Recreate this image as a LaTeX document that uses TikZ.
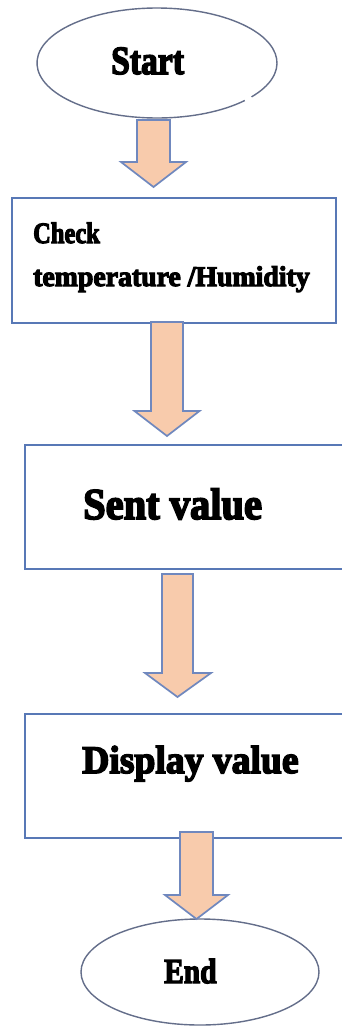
\documentclass[tikz,border=0pt]{standalone}
\usepackage{graphicx}
\usepackage{fontspec}
\usetikzlibrary{shapes.geometric}

% heavy serif used for every label
\newfontfamily\heavyserif{Liberation Serif}[BoldFeatures={FakeBold=4}]
% #1 font size (pt), #2 horizontal squeeze, #3 text
\newcommand\flowlabel[3]{\scalebox{#2}[1]{\fontsize{#1}{#1}\selectfont\heavyserif\bfseries #3}}

\definecolor{boxblue}{RGB}{88,120,182}
\definecolor{termgray}{RGB}{100,110,138}
\definecolor{arrowedge}{RGB}{112,136,190}
\definecolor{arrowfill}{RGB}{248,203,172}

\begin{document}
\begin{tikzpicture}[x=1pt,y=-1pt,
  procbox/.style={rectangle, draw=boxblue, line width=1.5pt, inner sep=0pt, anchor=north west},
  terminal/.style={ellipse, inner sep=0pt},
  termline/.style={draw=termgray, line width=1.4pt},
  blockarrow/.style={draw=arrowedge, fill=arrowfill, line width=1.7pt, line join=miter},
  lbl/.style={anchor=base west, inner sep=0pt}]

\useasboundingbox (0,0) rectangle (342,1026);
\clip (0,0) rectangle (342,1026);
\fill[white] (0,0) rectangle (342,1026);

% ---- terminals ----
\node[terminal, minimum width=240pt, minimum height=110pt] (start) at (157,63) {};
% start outline with its small break at the lower right
\draw[termline] ([shift={(43:120 and 55)}]start.center)
  arc[start angle=43, end angle=398, x radius=120, y radius=55];
\node[terminal, termline, minimum width=238pt, minimum height=106pt] (end) at (200,972) {};

% ---- process boxes ----
\node[procbox, minimum width=324pt, minimum height=125pt] (check) at (11,197) {};
\node[procbox, minimum width=330pt, minimum height=124pt] (sent) at (24,444) {};
\node[procbox, minimum width=330pt, minimum height=124pt] (display) at (24,713) {};

% ---- block arrows between the steps ----
\draw[blockarrow] (137,120) -- (170,120) -- (170,162) -- (186,162) -- (153.5,187)
  -- (121,162) -- (137,162) -- cycle;
\draw[blockarrow] (151,322) -- (183,322) -- (183,411) -- (199.5,411) -- (167,436)
  -- (134.5,411) -- (151,411) -- cycle;
\draw[blockarrow] (162,574) -- (193,574) -- (193,673) -- (211,673) -- (177.5,697)
  -- (145,673) -- (162,673) -- cycle;
\draw[blockarrow] (180,832) -- (213,832) -- (213,895) -- (228,895) -- (196.5,919)
  -- (165,895) -- (180,895) -- cycle;

% ---- labels ----
\node[lbl] (startlbl) at (111,74) {\flowlabel{40}{0.84}{Start}};
\node[lbl] (checklbla) at (33,243) {\flowlabel{29.5}{0.83}{Check}};
\node[lbl] (checklblb) at (33,286) {\flowlabel{28.5}{0.975}{temperature /Humidity}};
\node[lbl] (sentlbl) at (83,519) {\flowlabel{44}{0.92}{Sent value}};
\node[lbl] (displaylbl) at (82,773) {\flowlabel{39}{0.965}{Display value}};
\node[lbl] (endlbl) at (164,983) {\flowlabel{35}{0.84}{End}};
\end{tikzpicture}
\end{document}
